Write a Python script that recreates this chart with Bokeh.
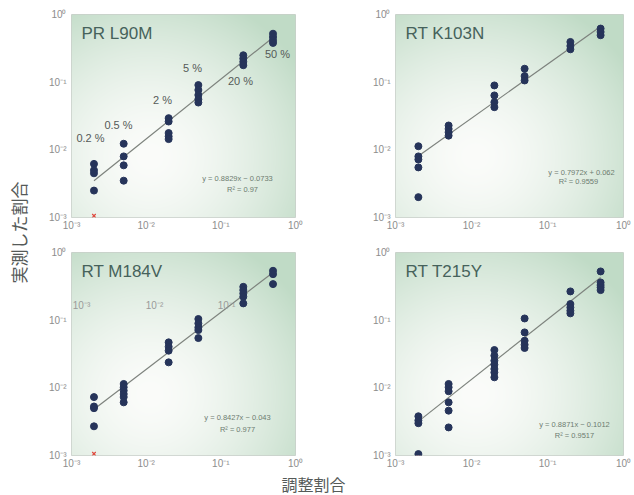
import numpy as np
from bokeh.plotting import figure
from bokeh.layouts import gridplot, row, column
from bokeh.models import Label, FixedTicker, CustomJSTickFormatter, Range1d
from bokeh.embed import file_html
from bokeh.resources import INLINE
from bokeh.core.properties import value

# ---------------- data ----------------
levels = [0.002, 0.005, 0.02, 0.05, 0.2, 0.5]
level_labels = ["0.2 %", "0.5 %", "2 %", "5 %", "20 %", "50 %"]

pr_l90m = [
    [0.0062, 0.0050, 0.0045, 0.0025],
    [0.0123, 0.0080, 0.0059, 0.0035],
    [0.0294, 0.0262, 0.0177, 0.0158, 0.0144],
    [0.0906, 0.0766, 0.0646, 0.0558, 0.0500],
    [0.250, 0.223, 0.200, 0.178],
    [0.520, 0.465, 0.415, 0.380],
]
rt_k103n = [
    [0.0113, 0.0080, 0.0072, 0.0055, 0.0020],
    [0.0229, 0.0204, 0.0182, 0.0162],
    [0.0895, 0.0637, 0.0507, 0.0427],
    [0.158, 0.123, 0.106],
    [0.393, 0.343, 0.306],
    [0.620, 0.553, 0.494],
]
rt_m184v = [
    [0.0073, 0.0053, 0.0050, 0.0027],
    [0.0114, 0.0102, 0.0091, 0.0081, 0.0073, 0.0061],
    [0.0470, 0.0405, 0.0354, 0.0238],
    [0.104, 0.0896, 0.078, 0.0714, 0.0544],
    [0.311, 0.278, 0.248, 0.222, 0.177],
    [0.537, 0.479, 0.341],
]
rt_t215y = [
    [0.0038, 0.0033, 0.0030, 0.00105],
    [0.0114, 0.0102, 0.0089, 0.0061, 0.0046, 0.0026],
    [0.0362, 0.0299, 0.0252, 0.0220, 0.0190, 0.0169, 0.0143],
    [0.106, 0.066, 0.0497, 0.0434, 0.0388],
    [0.266, 0.173, 0.154, 0.138, 0.126],
    [0.525, 0.361, 0.330, 0.305, 0.278],
]

titles = ["PR L90M", "RT K103N", "RT M184V", "RT T215Y"]
slopes = [0.8829, 0.7972, 0.8427, 0.8871]
intercepts = [-0.0733, 0.062, -0.043, -0.1012]
eq_texts = ["y = 0.8829x − 0.0733", "y = 0.7972x + 0.062",
            "y = 0.8427x − 0.043", "y = 0.8871x − 0.1012"]
r2_texts = ["R² = 0.97", "R² = 0.9559", "R² = 0.977", "R² = 0.9517"]
zero_marks = [True, False, True, True]   # red "x" at the axis origin (0 values)

tick_values = [0.001, 0.01, 0.1, 1.0]
tick_labels = ["10⁻³", "10⁻²", "10⁻¹", "10⁰"]

x_title = "調整割合"
y_title = "実測した割合"

# ---------------- layout / style ----------------
YT_W = 30
STRIP_H = 25
COL_W = [(41, 224, 55), (45, 228, 11)]   # border_left, frame, border_right
ROW_H = [(14, 203, 18), (17, 203, 15)]   # border_top, frame, border_bottom
DOT = "#26345a"
LINE = "#7d827d"
TICK_C = "#8d8d8d"
TXT = "#555a58"
FONT = "Liberation Sans"
CJK = "Noto Sans CJK JP"

formatter = CustomJSTickFormatter(
    args=dict(vals=tick_values, labs=tick_labels),
    code="""
    for (let i = 0; i < vals.length; i++) {
        if (Math.abs(Math.log10(tick) - Math.log10(vals[i])) < 1e-6) return labs[i];
    }
    return '';
    """)


def bg_image(w, h):
    xs = np.linspace(0, 1, w)[None, :]
    ys = np.linspace(0, 1, h)[:, None]
    d = np.sqrt(((xs - 0.35) / 0.8) ** 2 + ((ys - 0.3) / 0.85) ** 2)
    t = np.clip(d, 0, 1) ** 1.6
    white = np.array([251, 252, 250], dtype=float)
    green = np.array([192, 219, 198], dtype=float)
    rgb = white[None, None, :] * (1 - t[..., None]) + green[None, None, :] * t[..., None]
    img = np.empty((h, w), dtype=np.uint32)
    view = img.view(dtype=np.uint8).reshape((h, w, 4))
    view[..., :3] = rgb.astype(np.uint8)
    view[..., 3] = 255
    return img


def make_panel(k, data):
    ci, ri = k % 2, k // 2
    bl, fw, br = COL_W[ci]
    bt, fh, bb = ROW_H[ri]
    p = figure(x_axis_type="log", y_axis_type="log",
               x_range=Range1d(0.001, 1.0), y_range=Range1d(0.001, 1.0),
               frame_width=fw, frame_height=fh, width=bl + fw + br, height=bt + fh + bb,
               min_border_left=bl, min_border_right=br, min_border_top=bt, min_border_bottom=bb,
               toolbar_location=None, output_backend="svg")
    p.background_fill_color = "white"
    p.border_fill_color = "white"
    p.outline_line_color = "#c9cfca"
    p.grid.visible = False
    for ax in (p.xaxis[0], p.yaxis[0]):
        ax.ticker = FixedTicker(ticks=tick_values, minor_ticks=[])
        ax.formatter = formatter
        ax.axis_line_color = None
        ax.major_tick_line_color = None
        ax.minor_tick_line_color = None
        ax.major_tick_out = 0
        ax.major_tick_in = 0
        ax.minor_tick_out = 0
        ax.minor_tick_in = 0
        ax.major_label_text_color = TICK_C
        ax.major_label_text_font = FONT
        ax.major_label_text_font_size = "10px"
    p.yaxis[0].major_label_standoff = 5
    p.xaxis[0].major_label_standoff = 2

    # background gradient of the frame
    p.image_rgba(image=[bg_image(fw, fh)], x=0.001, y=0.001, dw=0.999, dh=0.999)

    # helpers converting frame pixel offsets to data coordinates (annotation placement)
    def dx(px):
        return 10 ** (-3 + 3 * px / fw)

    def dy(py):
        return 10 ** (-3 * py / fh)

    # regression line from the printed fit (log10 y = a log10 x + b)
    lx = np.array([levels[0], levels[-1]])
    ly = 10 ** (slopes[k] * np.log10(lx) + intercepts[k])
    p.line(lx, ly, line_color=LINE, line_width=1.2)

    if zero_marks[k]:
        p.scatter([levels[0]], [0.00106], marker="x", size=5, line_color="#e0443a", line_width=1.2)

    xs, ys = [], []
    for lv, vals in zip(levels, data):
        xs += [lv] * len(vals)
        ys += vals
    p.scatter(xs, ys, size=7, color=DOT, line_color=DOT)

    p.add_layout(Label(x=dx(10), y=dy(9), text=titles[k], text_font=FONT,
                       text_font_size="17px", text_color="#46625b",
                       text_baseline="top", text_align="left"))

    eq_pos = [((166, 164), (171, 175)), ((186, 158), (183, 167)),
              ((166, 165), (166, 177)), ((179, 172), (179, 183))][k]
    for (px, py), txt in zip(eq_pos, [eq_texts[k], r2_texts[k]]):
        p.add_layout(Label(x=dx(px), y=dy(py), text=txt, text_font=FONT,
                           text_font_size="7.5px", text_color="#6d7c70",
                           text_baseline="middle", text_align="center"))
    return p, dx, dy


panels = []
helpers = []
for k, data in enumerate([pr_l90m, rt_k103n, rt_m184v, rt_t215y]):
    p, dx, dy = make_panel(k, data)
    panels.append(p)
    helpers.append((dx, dy))

# percentage labels on the first panel
p1 = panels[0]
dx, dy = helpers[0]
lab_pos = [(19, 123), (47, 110), (91, 85), (121, 53), (169, 66), (206, 39)]
for (px, py), txt in zip(lab_pos, level_labels):
    p1.add_layout(Label(x=dx(px), y=dy(py), text=txt, text_font=FONT,
                        text_font_size="11px", text_color=TXT,
                        text_baseline="middle", text_align="center"))

# stray duplicated tick-label row printed inside the third panel
p3 = panels[2]
dx3, dy3 = helpers[2]
for px, txt in zip([10, 83, 155], tick_labels[:3]):
    p3.add_layout(Label(x=dx3(px), y=dy3(53), text=txt, text_font=FONT,
                        text_font_size="10px", text_color="#9a9a9a",
                        text_baseline="middle", text_align="center"))

# x-axis title strip
total_w = sum(sum(c) for c in COL_W)
xs_fig = figure(width=total_w, height=STRIP_H, x_range=Range1d(0, total_w), y_range=Range1d(0, STRIP_H),
                toolbar_location=None, output_backend="svg",
                min_border_left=0, min_border_right=0, min_border_top=0, min_border_bottom=0)
xs_fig.axis.visible = False
xs_fig.grid.visible = False
xs_fig.outline_line_color = None
xs_fig.background_fill_color = "white"
xs_fig.border_fill_color = "white"
xs_fig.add_layout(Label(x=313 - YT_W, y=STRIP_H, text=x_title, text_font=CJK,
                        text_font_size="16px", text_color=TXT,
                        text_baseline="top", text_align="center"))

# y-axis title in its own narrow strip
yt = figure(width=YT_W, height=495, x_range=Range1d(0, YT_W), y_range=Range1d(0, 495),
            toolbar_location=None, output_backend="svg",
            min_border_left=0, min_border_right=0, min_border_top=0, min_border_bottom=0)
yt.axis.visible = False
yt.grid.visible = False
yt.outline_line_color = None
yt.background_fill_color = "white"
yt.border_fill_color = "white"
yt.add_layout(Label(x=18, y=495 - 232, text=y_title, angle=np.pi / 2, text_font=CJK,
                    text_font_size="17px", text_color=TXT,
                    text_baseline="middle", text_align="center"))

grid = gridplot([[panels[0], panels[1]], [panels[2], panels[3]]], toolbar_location=None)
layout = row(yt, column(grid, xs_fig))

open("out.html", "w").write(file_html(layout, INLINE))
